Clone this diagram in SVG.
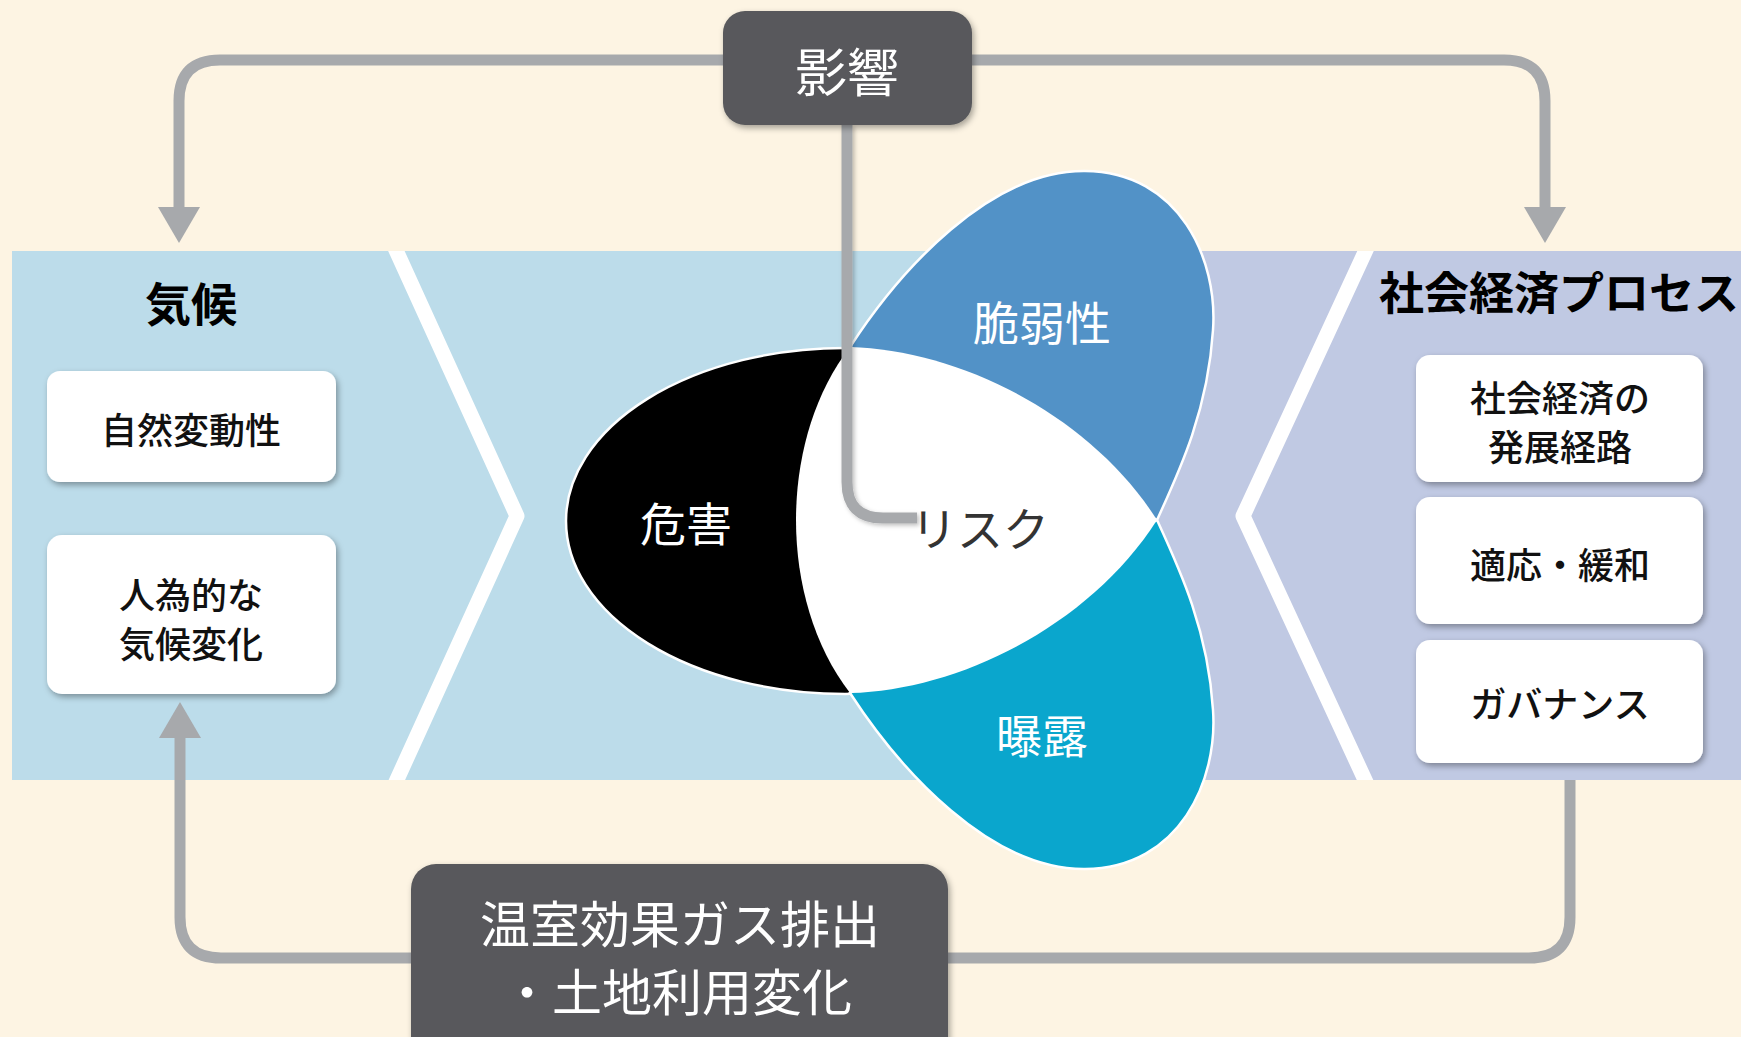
<svg xmlns="http://www.w3.org/2000/svg" width="1741" height="1037" viewBox="0 0 1741 1037">
  <defs>
    <style>
      .jp { font-family: "Noto Sans CJK JP", "Noto Sans", sans-serif; }
      .title { font-size: 46px; font-weight: 700; fill: #000; }
      .boxtxt { font-size: 36px; font-weight: 500; fill: #111; }
      .darktxt { font-size: 50px; font-weight: 400; fill: #fff; }
      .petal { font-size: 46px; font-weight: 400; fill: #fff; }
      .wbox { fill: #fff; }
      .dbox { fill: #58595B; }
      .conn { fill: none; stroke: #A7A9AC; stroke-width: 11; }
      .chev { fill: none; stroke: #fff; stroke-width: 15; stroke-linejoin: round; }
      .outline { stroke: #fff; stroke-width: 2.5; }
    </style>
    <filter id="sh" x="-10%" y="-10%" width="130%" height="140%">
      <feDropShadow dx="2" dy="3" stdDeviation="3" flood-color="#000" flood-opacity="0.35"/>
    </filter>
    <filter id="lsh" x="-20%" y="-5%" width="140%" height="115%">
      <feDropShadow dx="2" dy="2" stdDeviation="2" flood-color="#000" flood-opacity="0.25"/>
    </filter>
    <marker id="ah" markerUnits="userSpaceOnUse" markerWidth="36" markerHeight="42" viewBox="0 0 36 42" refX="3" refY="21" orient="auto">
      <path d="M0,0 L36,21 L0,42 Z" fill="#A7A9AC"/>
    </marker>
    <clipPath id="bandclip">
      <rect x="12" y="251" width="1729" height="529"/>
    </clipPath>
  </defs>

  <!-- background -->
  <rect x="0" y="0" width="1741" height="1037" fill="#FDF4E3"/>

  <!-- bands -->
  <g id="bands">
    <rect x="12" y="251" width="1100" height="529" fill="#BCDCEA"/>
    <rect x="1100" y="251" width="641" height="529" fill="#C0C9E3"/>
    <g clip-path="url(#bandclip)">
      <polyline class="chev" points="390,237 517,516 390,795"/>
      <polyline class="chev" points="1372,237 1243,516 1372,795"/>
    </g>
  </g>

  <!-- connectors -->
  <g id="connectors">
    <path class="conn" d="M 723 60 H 220 Q 179 60 179 101 V 210" marker-end="url(#ah)"/>
    <path class="conn" d="M 972 60 H 1504 Q 1545 60 1545 101 V 210" marker-end="url(#ah)"/>
    <path class="conn" d="M 1570 780 V 917 Q 1570 958 1529 958 H 948"/>
    <path class="conn" d="M 411 958 H 221 Q 180 958 180 917 V 735" marker-end="url(#ah)"/>
  </g>

  <!-- risk propeller -->
  <g id="hazard">
    <ellipse class="outline" cx="845" cy="521" rx="279" ry="173" fill="#000"/>
  </g>
  <g id="vulnerability">
    <path class="outline" fill="#5292C7" d="M 850 347 C 900 270 990 170 1085 171 C 1180 172 1218 260 1213 330 C 1208 410 1180 470 1157 520 Z"/>
  </g>
  <g id="exposure">
    <path class="outline" fill="#0AA6CD" d="M 850 693 C 900 770 990 870 1085 869 C 1180 868 1218 780 1213 710 C 1208 630 1180 570 1157 520 Z"/>
  </g>
  <g id="risk">
    <path fill="#fff" d="M 850 347 C 960 350 1090 415 1157 520 C 1090 625 960 690 850 693 C 778 600 778 440 850 347 Z"/>
  </g>

  <!-- impact to risk line -->
  <g id="connector-risk">
    <path class="conn" filter="url(#lsh)" d="M 847 125 V 482 Q 847 518 883 518 H 917"/>
  </g>

  <!-- petal labels -->
  <g id="labels">
    <text class="jp petal" x="686" y="521" text-anchor="middle" dominant-baseline="central">危害</text>
    <text class="jp petal" x="1042" y="320" text-anchor="middle" dominant-baseline="central">脆弱性</text>
    <text class="jp petal" x="1042" y="733" text-anchor="middle" dominant-baseline="central">曝露</text>
    <text class="jp petal" x="980" y="526" text-anchor="middle" dominant-baseline="central" style="fill:#333">リスク</text>
  </g>

  <!-- climate column -->
  <g id="climate">
    <text class="jp title" x="191" y="301" text-anchor="middle" dominant-baseline="central">気候</text>
  </g>
  <g id="natural-variability">
    <rect class="wbox" filter="url(#sh)" x="47" y="371" width="289" height="111" rx="13"/>
    <text class="jp boxtxt" x="191" y="428" text-anchor="middle" dominant-baseline="central">自然変動性</text>
  </g>
  <g id="anthropogenic">
    <rect class="wbox" filter="url(#sh)" x="47" y="535" width="289" height="159" rx="15"/>
    <text class="jp boxtxt" x="191" y="593" text-anchor="middle" dominant-baseline="central">人為的な</text>
    <text class="jp boxtxt" x="191" y="642" text-anchor="middle" dominant-baseline="central">気候変化</text>
  </g>

  <!-- socioeconomic column -->
  <g id="socioeconomic">
    <text class="jp title" x="1379" y="290" dominant-baseline="central" style="font-size:45px">社会経済プロセス</text>
  </g>
  <g id="pathways">
    <rect class="wbox" filter="url(#sh)" x="1416" y="355" width="287" height="127" rx="14"/>
    <text class="jp boxtxt" x="1560" y="396" text-anchor="middle" dominant-baseline="central">社会経済の</text>
    <text class="jp boxtxt" x="1560" y="445" text-anchor="middle" dominant-baseline="central">発展経路</text>
  </g>
  <g id="adaptation">
    <rect class="wbox" filter="url(#sh)" x="1416" y="497" width="287" height="127" rx="14"/>
    <text class="jp boxtxt" x="1560" y="563" text-anchor="middle" dominant-baseline="central">適応・緩和</text>
  </g>
  <g id="governance">
    <rect class="wbox" filter="url(#sh)" x="1416" y="640" width="287" height="123" rx="14"/>
    <text class="jp boxtxt" x="1560" y="702" text-anchor="middle" dominant-baseline="central">ガバナンス</text>
  </g>

  <!-- impacts box -->
  <g id="impacts">
    <rect class="dbox" filter="url(#sh)" x="723" y="11" width="249" height="114" rx="22"/>
    <text class="jp darktxt" x="847" y="69" text-anchor="middle" dominant-baseline="central" style="font-size:52px">影響</text>
  </g>

  <!-- emissions box -->
  <g id="emissions">
    <rect class="dbox" filter="url(#sh)" x="411" y="864" width="537" height="200" rx="25"/>
    <text class="jp darktxt" x="680" y="921" text-anchor="middle" dominant-baseline="central">温室効果ガス排出</text>
    <text class="jp darktxt" x="677" y="989" text-anchor="middle" dominant-baseline="central">・土地利用変化</text>
  </g>
</svg>
